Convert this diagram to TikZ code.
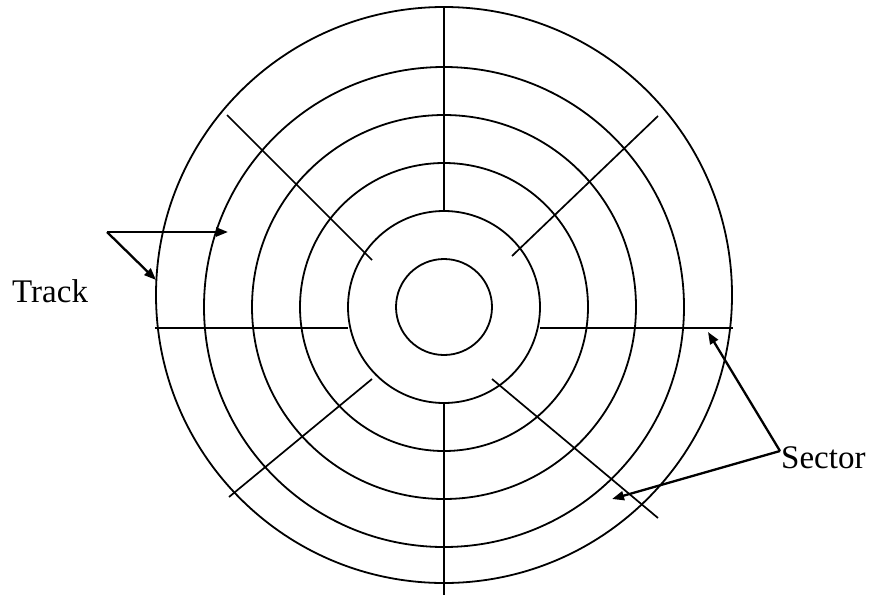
\documentclass[tikz,border=0pt]{standalone}
\usepackage{fontspec}
\setmainfont{Liberation Serif}
\usetikzlibrary{arrows.meta,positioning}

\begin{document}
\begin{tikzpicture}[x=1pt,y=-1pt,
  ring/.style={draw=black,line width=1.8pt},
  spoke/.style={draw=black,line width=1.7pt},
  lbl/.style={inner sep=0pt,font=\fontsize{33}{39}\selectfont},
  a/.style={-{Triangle[length=12pt,width=9pt]},black,line width=2.3pt}]
\useasboundingbox (0,0) rectangle (874,597);
% tracks
\coordinate (o) at (444,307);
\foreach \r in {48,96,144,192,240}
  \draw[ring] (o) circle[radius=\r];
\draw[ring] (444,295) circle[radius=288];
% sector boundaries
\draw[spoke] (444,6) -- (444,211);
\draw[spoke] (444,403) -- (444,595);
\draw[spoke] (155,328) -- (348,328);
\draw[spoke] (540,328) -- (733,328);
\draw[spoke] (227,115) -- (372,260);
\draw[spoke] (512,256) -- (658,116);
\draw[spoke] (372,379) -- (229,497);
\draw[spoke] (492,379) -- (658,518);
% labels
\node[lbl,anchor=base west] (track) at (12,302) {Track};
\node[lbl,anchor=base west] (sector) at (781,468) {Sector};
\coordinate (tk) at (107,232);
\coordinate (tk1) at (228,232);
\coordinate (tk2) at (156,280);
\coordinate (sc) at (780,451);
\coordinate (sc1) at (708,332);
\coordinate (sc2) at (612,499);
\draw[a] (tk) -- (tk1);
\draw[a] (tk) -- (tk2);
\draw[a] (sc) -- (sc1);
\draw[a] (sc) -- (sc2);
\end{tikzpicture}
\end{document}
